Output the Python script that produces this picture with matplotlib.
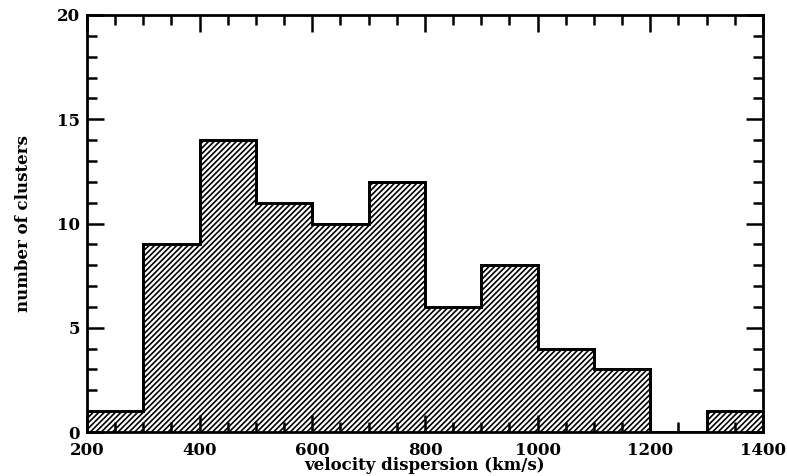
import matplotlib
matplotlib.use("Agg")
import matplotlib.pyplot as plt
from matplotlib.ticker import MultipleLocator

bin_edges = [200, 300, 400, 500, 600, 700, 800, 900, 1000, 1100, 1200, 1300, 1400]
counts = [1, 9, 14, 11, 10, 12, 6, 8, 4, 3, 0, 1]
x_label = "velocity dispersion (km/s)"
y_label = "number of clusters"

plt.rcParams['hatch.linewidth'] = 1.2
plt.rcParams['font.family'] = ['DejaVu Serif']

fig = plt.figure(figsize=(7.87, 4.76), dpi=100)
ax = fig.add_axes([0.1105, 0.0924, 0.8590, 0.8761])

ax.stairs(counts, bin_edges, fill=True, facecolor='white', edgecolor='black',
          hatch='/' * 6, linewidth=2)
ax.stairs(counts, bin_edges, fill=False, edgecolor='black', linewidth=2)

ax.set_xlim(200, 1400)
ax.set_ylim(0, 20)
ax.xaxis.set_major_locator(MultipleLocator(200))
ax.xaxis.set_minor_locator(MultipleLocator(50))
ax.yaxis.set_major_locator(MultipleLocator(5))
ax.yaxis.set_minor_locator(MultipleLocator(1))
ax.tick_params(which='both', direction='in', top=True, right=True, width=1.8, color='black')
ax.tick_params(which='major', length=12, labelsize=12)
ax.tick_params(axis='x', which='major', pad=7)
ax.tick_params(axis='y', which='major', pad=5)
ax.tick_params(which='minor', length=7)
for lab in ax.get_xticklabels() + ax.get_yticklabels():
    lab.set_fontweight('bold')
for s in ax.spines.values():
    s.set_linewidth(2)

ax.set_xlabel(x_label, fontsize=12, fontweight='bold', labelpad=-1)
ax.set_ylabel(y_label, fontsize=12, fontweight='bold', labelpad=18)

fig.savefig("out.png", dpi=100)
